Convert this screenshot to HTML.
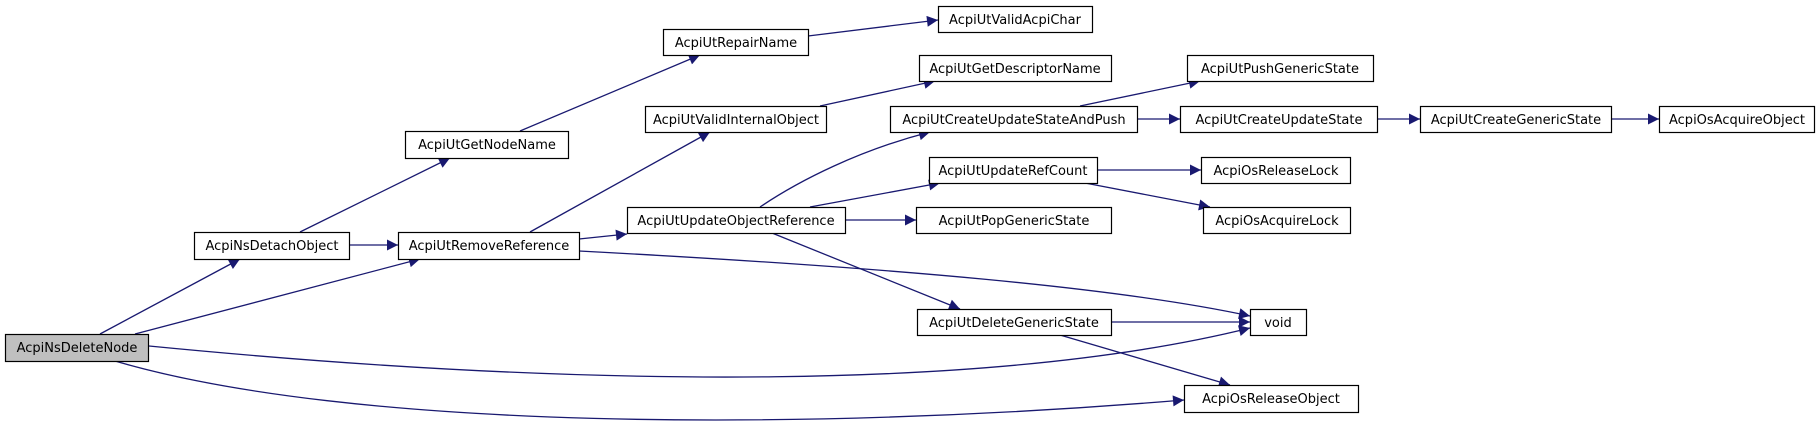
<!DOCTYPE html>
<html><head><meta charset="utf-8"><style>
html,body{margin:0;padding:0;background:#fff;}
svg{display:block;}
text{font-family:"DejaVu Sans","Liberation Sans",sans-serif;font-size:13px;fill:#000;}
.e{fill:none;stroke:#191970;stroke-width:1.3;}
</style></head><body>
<svg width="1820" height="429" viewBox="0 0 1820 429" xmlns="http://www.w3.org/2000/svg">
<defs><marker id="a" viewBox="0 0 10 10" refX="10" refY="5" markerWidth="13" markerHeight="11" markerUnits="userSpaceOnUse" orient="auto"><path d="M0,0L10,5L0,10z" fill="#191970"/></marker></defs>
<g marker-end="url(#a)">
<path class="e" d="M100,334 L240,259"/>
<path class="e" d="M135,334 L420,259"/>
<path class="e" d="M149,346 C600,390 1000,390 1250,328"/>
<path class="e" d="M115,361 C350,430 800,432 1184,400"/>
<path class="e" d="M349,245 L398,245"/>
<path class="e" d="M300,232 L450,158"/>
<path class="e" d="M520,131 L700,55"/>
<path class="e" d="M808,36 L938,20"/>
<path class="e" d="M530,232 L710,132"/>
<path class="e" d="M579,239 L627,234"/>
<path class="e" d="M579,251 C900,268 1120,288 1250,316"/>
<path class="e" d="M820,106 L935,81"/>
<path class="e" d="M760,207 C800,180 860,150 930,132"/>
<path class="e" d="M810,207 L940,183"/>
<path class="e" d="M845,220 L916,220"/>
<path class="e" d="M772,233 L960,309"/>
<path class="e" d="M1080,106 L1200,81"/>
<path class="e" d="M1137,119 L1180,119"/>
<path class="e" d="M1377,119 L1420,119"/>
<path class="e" d="M1611,119 L1659,119"/>
<path class="e" d="M1097,170 L1201,170"/>
<path class="e" d="M1085,183 L1210,207"/>
<path class="e" d="M1111,322 L1250,322"/>
<path class="e" d="M1060,335 L1230,385"/>
</g>
<g stroke="#000" stroke-width="1.2" fill="#fff">
<rect x="5.5" y="334.5" width="143" height="27" fill="#bfbfbf"/>
<rect x="194.5" y="232.5" width="155" height="27"/>
<rect x="398.5" y="232.5" width="181" height="27"/>
<rect x="405.5" y="131.5" width="163" height="27"/>
<rect x="663.5" y="29.5" width="145" height="26"/>
<rect x="938.5" y="6.5" width="154" height="26"/>
<rect x="645.5" y="106.5" width="181" height="26"/>
<rect x="919.5" y="55.5" width="192" height="26"/>
<rect x="627.5" y="207.5" width="218" height="26"/>
<rect x="890.5" y="106.5" width="247" height="26"/>
<rect x="1187.5" y="55.5" width="186" height="26"/>
<rect x="1180.5" y="106.5" width="197" height="26"/>
<rect x="1420.5" y="106.5" width="191" height="26"/>
<rect x="1659.5" y="106.5" width="155" height="26"/>
<rect x="929.5" y="157.5" width="168" height="26"/>
<rect x="1201.5" y="157.5" width="149" height="26"/>
<rect x="1203.5" y="207.5" width="147" height="26"/>
<rect x="916.5" y="207.5" width="195" height="26"/>
<rect x="917.5" y="309.5" width="194" height="26"/>
<rect x="1250.5" y="309.5" width="56" height="26"/>
<rect x="1184.5" y="385.5" width="174" height="27"/>
</g>
<g text-anchor="middle">
<text x="77" y="352">AcpiNsDeleteNode</text>
<text x="272" y="250">AcpiNsDetachObject</text>
<text x="489" y="250">AcpiUtRemoveReference</text>
<text x="487" y="149">AcpiUtGetNodeName</text>
<text x="736" y="47">AcpiUtRepairName</text>
<text x="1015" y="24">AcpiUtValidAcpiChar</text>
<text x="736" y="124">AcpiUtValidInternalObject</text>
<text x="1015" y="73">AcpiUtGetDescriptorName</text>
<text x="736" y="225">AcpiUtUpdateObjectReference</text>
<text x="1014" y="124">AcpiUtCreateUpdateStateAndPush</text>
<text x="1280" y="73">AcpiUtPushGenericState</text>
<text x="1279" y="124">AcpiUtCreateUpdateState</text>
<text x="1516" y="124">AcpiUtCreateGenericState</text>
<text x="1737" y="124">AcpiOsAcquireObject</text>
<text x="1013" y="175">AcpiUtUpdateRefCount</text>
<text x="1276" y="175">AcpiOsReleaseLock</text>
<text x="1277" y="225">AcpiOsAcquireLock</text>
<text x="1014" y="225">AcpiUtPopGenericState</text>
<text x="1014" y="327">AcpiUtDeleteGenericState</text>
<text x="1278" y="327">void</text>
<text x="1271" y="403">AcpiOsReleaseObject</text>
</g>
</svg>
</body></html>
